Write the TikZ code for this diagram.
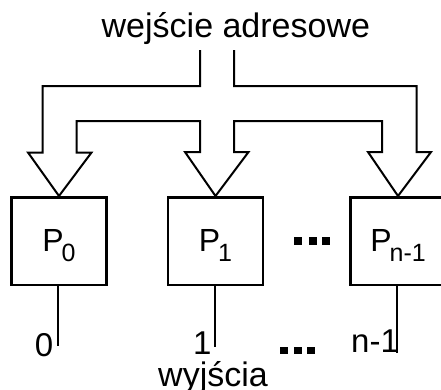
\documentclass[tikz,border=0pt]{standalone}
\usepackage{fontspec}
\setmainfont{Liberation Sans}
\usepackage{tikz}

% subscript of a processor name
\newcommand\pidx[1]{\kern-2pt\raisebox{-10pt}{\fontsize{25}{30}\selectfont #1}}

\tikzset{
  proc/.style={draw, line width=2.5pt, minimum width=95pt, minimum height=87.5pt,
    inner sep=0pt, font=\fontsize{32}{38}\selectfont, text height=28pt, text depth=6.6pt},
  lbl/.style={inner sep=0pt, anchor=base west, font=\fontsize{34}{40}\selectfont},
  num/.style={inner sep=0pt, anchor=base west, font=\fontsize{33}{40}\selectfont}
}

\begin{document}
\begin{tikzpicture}[x=1pt,y=-1pt]
\useasboundingbox (0,0) rectangle (441,389);

% processors
\node[proc] (p0) at (59,241) {P\pidx{0}};
\node[proc] (p1) at (215.5,241) {P\pidx{1}};
\node[proc] (pn) at (398,241) {P\pidx{n-1}};

\node[lbl] (adr) at (101.5,37.3) {wejście adresowe};

% address bus, split into three hollow arrows
\draw[line width=2pt, line join=miter]
  (200,50) -- (200,86) -- (42.5,86) -- (42.5,152.5) -- (28,152.5)
  -- (p0.north) -- (91.5,152.5) -- (76.5,152.5) -- (76.5,121)
  -- (200,121) -- (200,152) -- (185,152)
  -- (p1.north) -- (248.5,152) -- (234,152) -- (234,121)
  -- (382,121) -- (382,152) -- (368,152)
  -- (pn.north) -- (431,152) -- (416.5,152) -- (416.5,86)
  -- (234,86) -- (234,50);

% outputs
\coordinate (out0) at (58,346);
\coordinate (out1) at (214.5,347);
\coordinate (outn) at (397,353);
\draw[line width=2pt] (p0.south -| out0) -- (out0);
\draw[line width=2pt] (p1.south -| out1) -- (out1);
\draw[line width=2pt] (pn.south -| outn) -- (outn);

\node[num] (n0) at (34.6,356) {0};
\node[num] (n1) at (193,354) {1};
\node[num] (nn) at (351,352.7) {n-1};

\node[lbl] (wy) at (158,386) {wyjścia};

% dots
\foreach \x in {297.5,312.5,326}
{
\fill (\x-4,237) rectangle (\x+4,245);
}
\foreach \x in {284,297.5,310.5}
{
\fill (\x-4,346.7) rectangle (\x+4,354.3);
}

\end{tikzpicture}
\end{document}
